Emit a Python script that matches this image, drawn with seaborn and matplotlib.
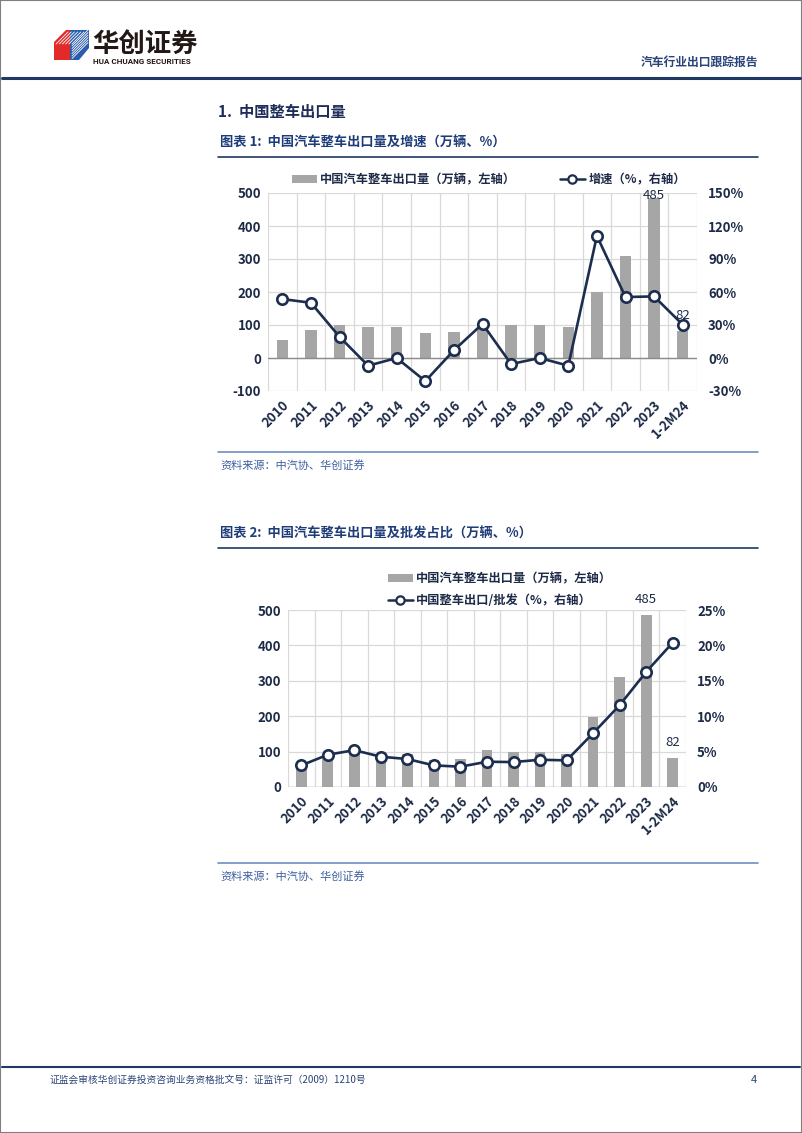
import numpy as np
import pandas as pd
import matplotlib
matplotlib.use("Agg")
import matplotlib.pyplot as plt
import seaborn as sns
from matplotlib.lines import Line2D
from matplotlib.patches import Patch, Polygon, Rectangle

# ---------------- data ----------------
categories = ['2010', '2011', '2012', '2013', '2014', '2015', '2016', '2017',
              '2018', '2019', '2020', '2021', '2022', '2023', '1-2M24']
export_volume = [56, 84, 101, 94, 94, 75, 80, 104, 100, 100, 94, 199, 310, 485, 82]   # 万辆
growth_rate = [53.6, 50.2, 19.3, -7.0, 0.0, -21.0, 7.0, 31.0, -5.5, 0.0, -7.0,
               111.0, 55.4, 56.0, 30.3]                                               # %
export_share = [3.05, 4.56, 5.2, 4.28, 3.95, 3.05, 2.87, 3.57, 3.52, 3.85, 3.76,
                7.6, 11.56, 16.26, 20.4]                                              # %
left1_ticks = [-100, 0, 100, 200, 300, 400, 500]
right1_ticks = [-30, 0, 30, 60, 90, 120, 150]
left2_ticks = [0, 100, 200, 300, 400, 500]
right2_ticks = [0, 5, 10, 15, 20, 25]
bar_label1 = '中国汽车整车出口量（万辆，左轴）'
line_label1 = '增速（%，右轴）'
bar_label2 = '中国汽车整车出口量（万辆，左轴）'
line_label2 = '中国整车出口/批发（%，右轴）'

# ---------------- style ----------------
sns.set_style("white")
plt.rcParams['font.family'] = ['Noto Sans CJK SC', 'DejaVu Sans']
plt.rcParams['axes.unicode_minus'] = False

W, H = 802, 1133
BAR = '#A6A6A6'
NAVY = '#1C2D4E'
TICK = '#1E2B48'
GRID = '#D9D9D9'
TITLE = '#1E3C78'
TFS = 9.5

fig = plt.figure(figsize=(W / 100, H / 100), dpi=100)


def fx(x):
    return x / W


def fy(y):
    return 1 - y / H


def ptext(x, y, s, **kw):
    kw.setdefault('va', 'center')
    fig.text(fx(x), fy(y), s, **kw)


def hline(x0, x1, y, color, lw):
    fig.add_artist(Line2D([fx(x0), fx(x1)], [fy(y), fy(y)], color=color, lw=lw,
                          transform=fig.transFigure))


df = pd.DataFrame({'cat': categories, 'vol': export_volume,
                   'growth': growth_rate, 'share': export_share,
                   'pos': np.arange(len(categories))})


def make_chart(rect, ylim_l, ylim_r, lticks, rticks, rfmt, line_col, zero_color):
    left, top, right, bottom = rect
    ax = fig.add_axes([fx(left), fy(bottom), fx(right) - fx(left), fy(top) - fy(bottom)])
    sns.barplot(data=df, x='cat', y='vol', ax=ax, color=BAR, width=0.4,
                saturation=1, edgecolor='none', order=categories)
    ax.set_xlim(-0.5, len(categories) - 0.5)
    ax.set_ylim(*ylim_l)
    ax.set_yticks(lticks)
    ax.set_yticklabels([str(v) for v in lticks])
    ax.set_axisbelow(True)
    ax.yaxis.grid(True, color=GRID, lw=0.9)
    ax.set_xticks(np.arange(-0.5, len(categories), 1), minor=True)
    ax.xaxis.grid(True, which='minor', color=GRID, lw=0.9)
    ax.xaxis.grid(False, which='major')
    ax.axhline(0, color=zero_color, lw=1.0, zorder=1.5)
    ax.set_xlabel('')
    ax.set_ylabel('')
    for s in ax.spines.values():
        s.set_visible(False)
    ax.tick_params(axis='both', which='both', length=0, pad=5)
    ax.set_xticklabels(categories, rotation=45, ha='right', rotation_mode='anchor',
                       fontsize=TFS, fontweight='bold', color=TICK)
    for t in ax.get_yticklabels():
        t.set_fontsize(TFS)
        t.set_fontweight('bold')
        t.set_color(TICK)

    ax2 = ax.twinx()
    sns.lineplot(data=df, x='pos', y=line_col, ax=ax2, color=NAVY, lw=1.9,
                 marker='o', markersize=7.5, markerfacecolor='white',
                 markeredgecolor=NAVY, markeredgewidth=1.9)
    ax2.set_ylim(*ylim_r)
    ax2.set_yticks(rticks)
    ax2.set_yticklabels([rfmt(v) for v in rticks])
    ax2.set_ylabel('')
    ax2.set_xlim(-0.5, len(categories) - 0.5)
    for s in ax2.spines.values():
        s.set_visible(False)
    ax2.tick_params(axis='y', length=0, pad=8)
    for t in ax2.get_yticklabels():
        t.set_fontsize(TFS)
        t.set_fontweight('bold')
        t.set_color(TICK)
    return ax, ax2


# ---------------- chart 1 ----------------
ax1, ax1r = make_chart((268, 193, 697, 391), (-100, 500), (-30, 150),
                       left1_ticks, right1_ticks, lambda v: f'{v}%', 'growth', '#8C8C8C')
ax1.annotate(str(export_volume[13]), (13, export_volume[13]), xytext=(0, 2),
             textcoords='offset points', ha='center', va='center', fontsize=TFS,
             color=TICK, zorder=5)
ax1.annotate(str(export_volume[14]), (14, export_volume[14]), xytext=(0, 11),
             textcoords='offset points', ha='center', va='center', fontsize=TFS,
             color=TICK, zorder=5)

h_bar = Patch(facecolor=BAR, edgecolor='none')
h_line = Line2D([0], [0], color=NAVY, lw=1.8, marker='o', markersize=6,
                markerfacecolor='white', markeredgecolor=NAVY, markeredgewidth=1.6)
fig.legend([h_bar, h_line], [bar_label1, line_label1], ncol=2, loc='center',
           bbox_to_anchor=(fx(489), fy(180)), frameon=False,
           prop={'size': 8.8, 'weight': 'bold'}, labelcolor=TICK,
           handlelength=2.0, handleheight=0.6, handletextpad=0.3, columnspacing=3.6)

# ---------------- chart 2 ----------------
ax2l, ax2r = make_chart((288, 610, 686, 787), (0, 500), (0, 25),
                        left2_ticks, right2_ticks, lambda v: f'{v}%', 'share', '#A0A0A0')
ax2l.annotate(str(export_volume[13]), (13, export_volume[13]), xytext=(0, 11.5),
              textcoords='offset points', ha='center', va='center', fontsize=TFS,
              color=TICK, zorder=5)
ax2l.annotate(str(export_volume[14]), (14, export_volume[14]), xytext=(0, 11),
              textcoords='offset points', ha='center', va='center', fontsize=TFS,
              color=TICK, zorder=5)
fig.legend([h_bar, h_line], [bar_label2, line_label2], ncol=1, loc='upper left',
           bbox_to_anchor=(fx(382), fy(566)), frameon=False,
           prop={'size': 8.8, 'weight': 'bold'}, labelcolor=TICK,
           handlelength=2.0, handleheight=0.6, handletextpad=0.3, labelspacing=0.7,
           borderpad=0.0)

# ---------------- page furniture ----------------
fig.add_artist(Rectangle((0, 0), 1, 1, transform=fig.transFigure, fill=False,
                         edgecolor='#7F7F7F', lw=1.5))


def poly(pts, color):
    fig.add_artist(Polygon([(fx(x), fy(y)) for x, y in pts], closed=True,
                           facecolor=color, edgecolor='none', transform=fig.transFigure))


poly([(54, 42), (66, 30), (74, 30), (74, 60), (54, 60)], '#E32A2A')
poly([(70, 30), (89, 30), (89, 48), (79, 60), (70, 60)], '#2B5DAE')
for k in range(6):
    o = 3.2 * k
    fig.add_artist(Line2D([fx(56 + o), fx(68 + o)], [fy(44), fy(32)],
                          color='white', lw=0.6, transform=fig.transFigure))
    fig.add_artist(Line2D([fx(72), fx(88)], [fy(46 + 2.5 * k), fy(30 + 2.5 * k)],
                          color='white', lw=0.6, transform=fig.transFigure))
ptext(92, 44, '华创证券', fontsize=19, fontweight='bold', color='#231815', ha='left')
ptext(93, 61, 'HUA CHUANG SECURITIES', fontsize=5.8, fontweight='bold',
      color='#231815', ha='left', family=['Roboto', 'DejaVu Sans'])

ptext(758, 62, '汽车行业出口跟踪报告', fontsize=8.5, fontweight='bold', color='#2B4478', ha='right')
hline(2, 800, 77.5, '#1F3864', 2.2)

ptext(218, 112, '1.  中国整车出口量', fontsize=11, fontweight='bold', color='#1F2D5A', ha='left')
ptext(220, 143, '图表 1:  中国汽车整车出口量及增速（万辆、%）', fontsize=9.5, fontweight='bold',
      color=TITLE, ha='left')
hline(218, 758, 157, '#1F3864', 1.2)
hline(218, 758, 452, '#6F8FC4', 1.2)
ptext(220, 465, '资料来源：中汽协、华创证券', fontsize=8, color='#3E5FA0', ha='left')

ptext(220, 534, '图表 2:  中国汽车整车出口量及批发占比（万辆、%）', fontsize=9.5, fontweight='bold',
      color=TITLE, ha='left')
hline(218, 758, 548, '#1F3864', 1.2)
hline(218, 758, 863, '#6F8FC4', 1.2)
ptext(220, 876, '资料来源：中汽协、华创证券', fontsize=8, color='#3E5FA0', ha='left')

hline(2, 800, 1067, '#1F3864', 1.5)
ptext(50, 1080, '证监会审核华创证券投资咨询业务资格批文号：证监许可（2009）1210号', fontsize=7,
      color='#2B4478', ha='left')
ptext(757, 1080, '4', fontsize=8, color='#2B4478', ha='right')

fig.savefig('out.png', dpi=100)
